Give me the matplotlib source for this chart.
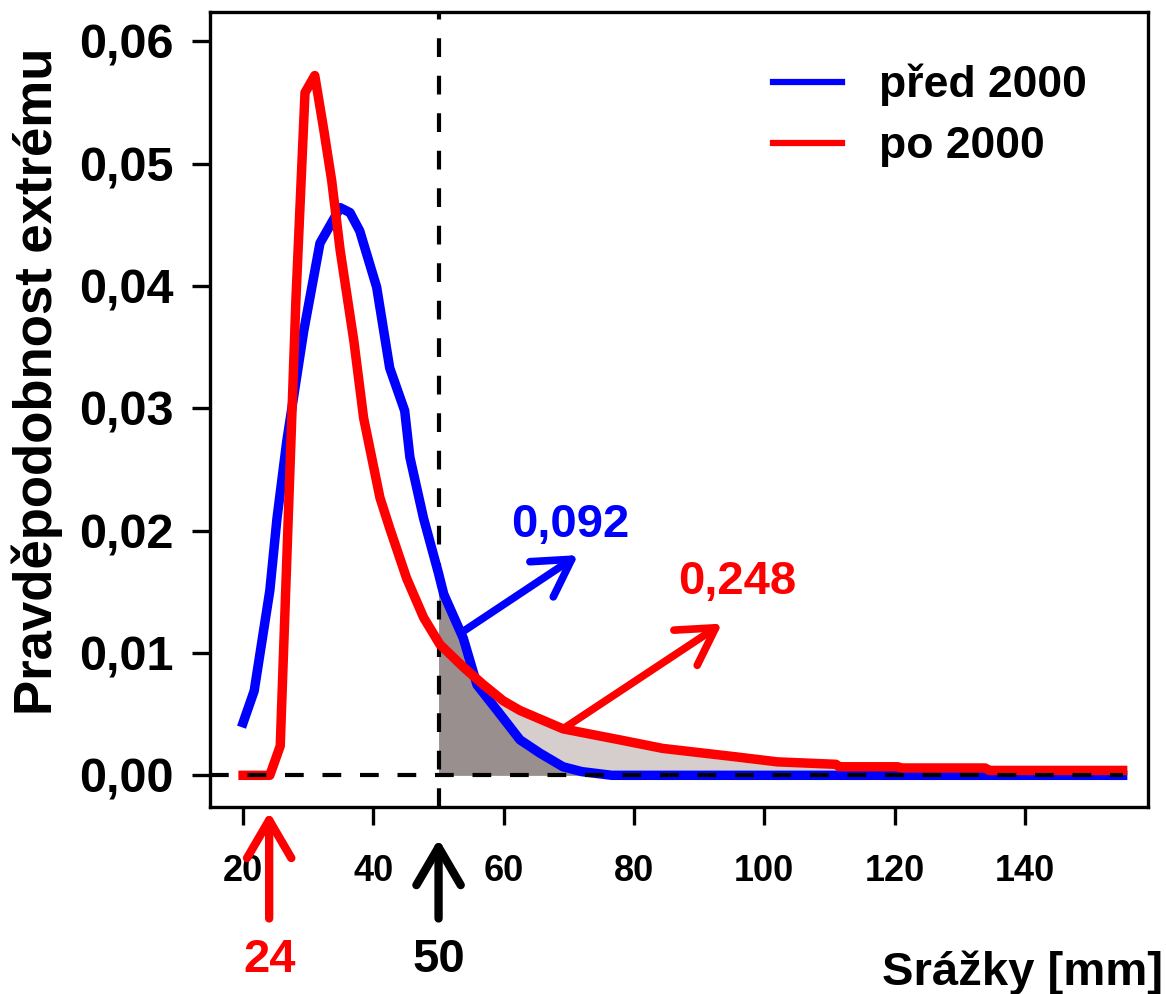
import numpy as np
import matplotlib
matplotlib.use("Agg")
from matplotlib import pyplot as plt
from matplotlib.lines import Line2D

plt.rcParams["font.family"] = ["Liberation Sans", "DejaVu Sans"]
plt.rcParams["font.weight"] = "bold"

# curve (x in mm, y probability density)
before_x = [20, 21.7, 24.1, 25.2, 26.7, 29.3, 31.8, 34.9, 36.4, 37.9, 40.5, 42.5,
            44.8, 45.6, 47.7, 50, 50.8, 53.8, 55.9, 59.0, 62.5, 65.6, 69.1, 72, 76.6, 155]
before_y = [0.0043, 0.0069, 0.0151, 0.021, 0.0273, 0.0363, 0.0435, 0.0464, 0.046, 0.0445,
            0.0399, 0.0333, 0.0298, 0.026, 0.021, 0.0165, 0.0148, 0.0112, 0.0074, 0.0053,
            0.0029, 0.0018, 0.0007, 0.0003, 0.0, 0.0]

after_x = [20, 24.1, 25.7, 28.1, 29.5, 31.0, 32.4, 33.6, 34.9, 37.0, 38.5, 41.0, 42.5,
           45.1, 47.7, 50.2, 53.9, 56.9, 59.9, 62.5, 69.1, 77.8, 84.4, 95.8, 102, 111,
           111.5, 120.5, 121, 133.9, 134.5, 155]
after_y = [0.0, 0.0, 0.0024, 0.0388, 0.0558, 0.0572, 0.0527, 0.0486, 0.0429, 0.0355,
           0.0292, 0.0227, 0.0202, 0.0161, 0.0129, 0.0107, 0.0088, 0.0074, 0.0061, 0.0053,
           0.0038, 0.0029, 0.0022, 0.0015, 0.0011, 0.0009, 0.0007, 0.0007, 0.0006, 0.0006,
           0.0004, 0.0004]

labels = ["před 2000", "po 2000"]
threshold = 50
minimum_after = 24
p_before = "0,092"
p_after = "0,248"

x_ticks = [20, 40, 60, 80, 100, 120, 140]
y_ticks = [0.0, 0.01, 0.02, 0.03, 0.04, 0.05, 0.06]

bx, by = np.array(before_x), np.array(before_y)
rx, ry = np.array(after_x), np.array(after_y)

fig = plt.figure(figsize=(11.66, 9.94), dpi=100)
ax = fig.add_axes([0.180, 0.188, 0.8046, 0.800])

# shaded tails above the threshold
m = rx >= threshold
ax.fill_between(rx[m], 0, ry[m], color="#d6cdcd", lw=0)
m = bx >= threshold
ax.fill_between(bx[m], 0, by[m], color="#9a8f8f", lw=0)

dash = (0, (4.5, 4.5))
ax.axvline(threshold, color="black", lw=3, ls=dash, zorder=1)
ax.hlines(0, 14.9, 155, color="black", lw=3, ls=dash, zorder=4)

ax.plot(bx, by, color="blue", lw=6.8, zorder=3)
ax.plot(rx, ry, color="red", lw=6.8, zorder=3)

arrow = "->,head_length=0.65,head_width=0.38"
ax.annotate("", xy=(71.4, 0.018), xytext=(53.6, 0.0117),
            arrowprops=dict(arrowstyle=arrow, color="blue", lw=5.5, mutation_scale=40,
                            shrinkA=0, shrinkB=0, capstyle="round"))
ax.annotate("", xy=(93.5, 0.0124), xytext=(69.4, 0.0039),
            arrowprops=dict(arrowstyle=arrow, color="red", lw=5.5, mutation_scale=40,
                            shrinkA=0, shrinkB=0, capstyle="round"))
ax.text(70.2, 0.0205, p_before, color="blue", fontsize=34, ha="center", va="center")
ax.text(95.8, 0.0158, p_after, color="red", fontsize=34, ha="center", va="center")

# markers below the x axis
ax.annotate("", xy=(minimum_after, -0.006), xytext=(minimum_after, -0.14),
            xycoords=("data", "axes fraction"),
            arrowprops=dict(arrowstyle=arrow, color="red", lw=6, mutation_scale=42,
                            shrinkA=0, shrinkB=0, capstyle="round"), annotation_clip=False)
ax.annotate("", xy=(threshold, -0.04), xytext=(threshold, -0.14),
            xycoords=("data", "axes fraction"),
            arrowprops=dict(arrowstyle=arrow, color="black", lw=6, mutation_scale=42,
                            shrinkA=0, shrinkB=0, capstyle="round"), annotation_clip=False)
ax.annotate(str(minimum_after), xy=(minimum_after, -0.192), xycoords=("data", "axes fraction"),
            color="red", fontsize=34, ha="center", va="center", annotation_clip=False)
ax.annotate(str(threshold), xy=(threshold, -0.192), xycoords=("data", "axes fraction"),
            color="black", fontsize=34, ha="center", va="center", annotation_clip=False)

ax.set_xlim(14.9, 158.9)
ax.set_ylim(-0.0026, 0.0624)
ax.set_xticks(x_ticks)
ax.set_yticks(y_ticks)
ax.set_yticklabels([f"{v:.2f}".replace(".", ",") for v in y_ticks], fontsize=35)
ax.set_xticklabels([str(v) for v in x_ticks], fontsize=26)
ax.tick_params(axis="y", length=13, width=2.4, pad=13)
ax.tick_params(axis="x", length=13, width=2.4, pad=21)
for s in ax.spines.values():
    s.set_linewidth(2.4)

ax.set_ylabel("Pravděpodobnost extrému", fontsize=38, fontweight="bold")
ax.yaxis.set_label_coords(-0.157, 0.535)
fig.text(1163 / 1166, 1 - 985 / 994, "Srážky [mm]", fontsize=34, ha="right", va="baseline")

handles = [Line2D([], [], color="blue", lw=4.5), Line2D([], [], color="red", lw=4.5)]
ax.legend(handles, labels, loc="upper left", bbox_to_anchor=(0.600, 0.935), frameon=False,
          fontsize=32, handlelength=1.55, handletextpad=0.85, labelspacing=0.45,
          borderpad=0, borderaxespad=0)

fig.savefig("out.png", dpi=100)
